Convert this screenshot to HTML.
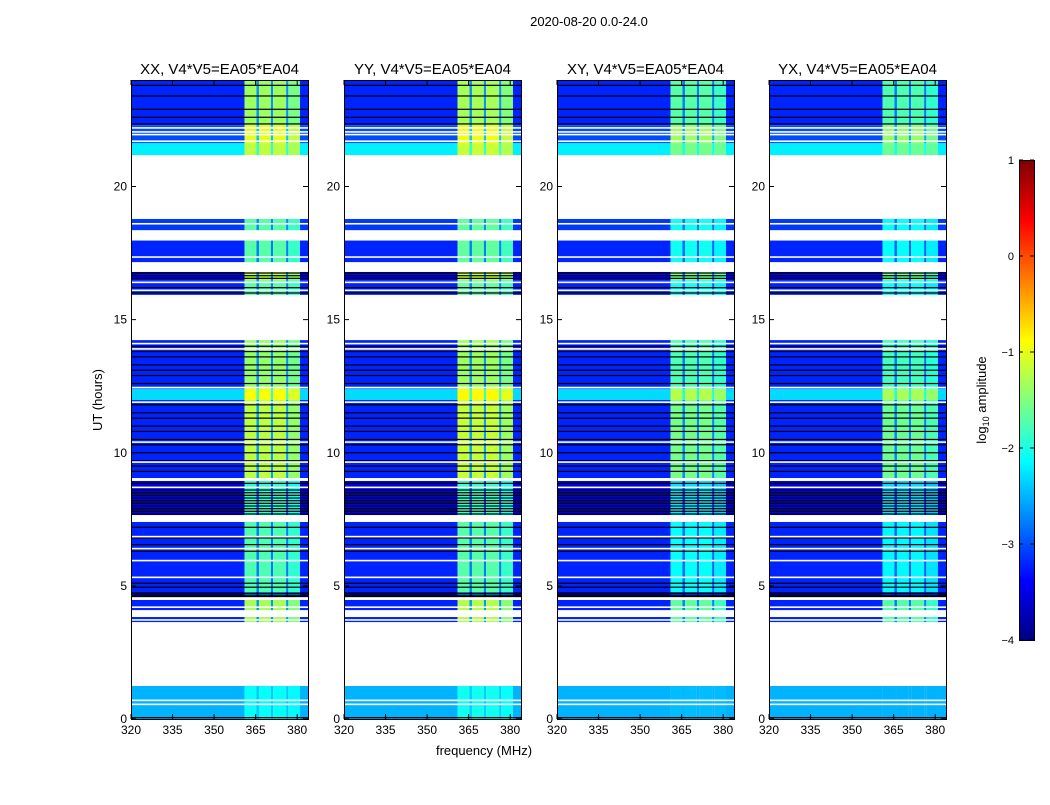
<!DOCTYPE html>
<html><head><meta charset="utf-8"><style>
body{margin:0;background:#fff;font-family:"Liberation Sans",sans-serif}
svg text{font-family:"Liberation Sans",sans-serif}
</style></head><body>
<svg id="fig" width="1050" height="800" xmlns="http://www.w3.org/2000/svg">
<rect width="1050" height="800" fill="#fff"/>
<text x="589" y="26" font-size="13" text-anchor="middle">2020-08-20 0.0-24.0</text>
<text x="484" y="755" font-size="13" text-anchor="middle">frequency (MHz)</text>
<text x="102" y="400" font-size="13" text-anchor="middle" transform="rotate(-90 102 400)">UT (hours)</text>
<g id="panels"></g>
<g id="cbar"></g>
</svg>
<script>
const panelTitles=["XX, V4*V5=EA05*EA04","YY, V4*V5=EA05*EA04","XY, V4*V5=EA05*EA04","YX, V4*V5=EA05*EA04"];
const panelBandOffset=[0,0.05,-0.35,-0.4];
// frequency bands: [fStart,fEnd,bandWeight]
const freqBands=[[320,361,0],[361,365.3,1],[365.3,366.2,0.3],[366.2,370.5,1],[370.5,371.3,0.3],[371.3,376,1],[376,376.8,0.3],[376.8,381,0.9],[381,384,0]];
// time segments: [tStart,tEnd,backgroundLog,bandLog]
const segments=[[0,1.24,-2.5,-2.1],[3.64,3.83,-3.2,-1.3],[4.09,4.47,-3.2,-1.3],[4.58,4.77,-3.6,-2.6],[4.77,7.40,-3.2,-1.75],[7.66,8.94,-3.5,-1.9],[9.05,11.98,-3.2,-1.2],[11.98,12.4,-2.3,-0.9],[12.4,14.23,-3.2,-1.4],[15.88,16.48,-3.2,-1.7],[16.48,16.79,-3.4,-1.2],[17.16,18.02,-3.2,-1.7],[18.36,18.78,-3.1,-1.7],[21.18,21.63,-2.2,-1.2],[21.63,22.3,-3.0,-1.0],[22.3,24,-3.2,-1.35]];
const blackLines=[0.05,4.6,4.65,4.72,4.95,5.1,6.3,6.55,6.8,7.2,7.7,7.8,7.9,8.0,8.1,8.2,8.3,8.4,8.5,8.6,8.7,8.85,9.3,9.5,9.7,10.0,10.3,10.5,10.8,11.0,11.3,11.5,11.8,12.6,12.9,13.1,13.3,13.6,13.8,14.0,16.0,16.2,16.55,16.65,16.75,22.35,22.6,22.9,23.4,23.8];
const whiteLines=[0.55,0.7,3.72,4.2,4.52,5.32,5.95,6.4,6.85,7.55,8.7,9.65,10.4,11.9,12.45,13.9,14.1,15.9,16.1,16.4,16.85,17.05,17.35,18.0,18.6,21.7,21.95,22.05,22.2];
const yTicks=[0,5,10,15,20];
const xTicks=[320,335,350,365,380];
const cbTicks=[1,0,-1,-2,-3,-4];

const NS="http://www.w3.org/2000/svg";
const panelX=[131,344,557,769],PW=177,PT=80,PB=719;
const yS=h=>PB-(h/24)*(PB-PT);
const xS=(p,f)=>panelX[p]+(f-320)*2.77;
function jet(v){let t=Math.max(0,Math.min(1,(v+4)/5));
 const c=x=>Math.round(255*Math.max(0,Math.min(1,1.5-Math.abs(4*t-x))));
 return `rgb(${c(3)},${c(2)},${c(1)})`;}
function mk(tag,at,parent){const e=document.createElementNS(NS,tag);for(const k in at)e.setAttribute(k,at[k]);parent.appendChild(e);return e;}
const G=document.getElementById('panels');
for(let p=0;p<4;p++){
 const g=mk('g',{},G);
 
 
 const t=mk('text',{x:panelX[p]+PW/2,y:74,'font-size':15,'text-anchor':'middle'},g);
 t.textContent=panelTitles[p];
 
 
 for(const s of segments){
  for(const b of freqBands){
   const v=s[2]+(s[3]+panelBandOffset[p]-s[2])*b[2];
   const x0=xS(p,b[0]),x1=Math.min(xS(p,b[1]),panelX[p]+PW);
   const r=mk('rect',{x:x0,y:yS(s[1]),width:x1-x0,height:yS(s[0])-yS(s[1]),fill:jet(v)},g);
   
   
  }
 }
 for(const h of blackLines){const r=mk('rect',{x:panelX[p],y:yS(h)-0.6,width:PW,height:1.2,fill:'#000'},g);
  
  }
 for(const h of whiteLines){const r=mk('rect',{x:panelX[p],y:yS(h)-0.8,width:PW,height:1.6,fill:'#fff'},g);
  
  }
 const fr=mk('rect',{x:panelX[p]+0.5,y:PT+0.5,width:PW,height:PB-PT,fill:'none',stroke:'#000','stroke-width':1},g);
 
 
 for(const v of yTicks){const y=yS(v);
  mk('line',{x1:panelX[p],x2:panelX[p]+5,y1:y,y2:y,stroke:'#000'},g);
  mk('line',{x1:panelX[p]+PW-5,x2:panelX[p]+PW,y1:y,y2:y,stroke:'#000'},g);
  const l=mk('text',{x:panelX[p]-4,y:y+4,'font-size':12,'text-anchor':'end'},g);l.textContent=v;
  
  }
 for(const v of xTicks){const x=xS(p,v);
  mk('line',{x1:x,x2:x,y1:PB,y2:PB-5,stroke:'#000'},g);
  mk('line',{x1:x,x2:x,y1:PT,y2:PT+5,stroke:'#000'},g);
  const l=mk('text',{x:x,y:PB+15,'font-size':12,'text-anchor':'middle'},g);l.textContent=v;
  
  }
}
const C=document.getElementById('cbar');
const cx=1019,cw=15,ct=160,cb=640;
for(let i=0;i<240;i++){const v=1-5*i/240;
 mk('rect',{x:cx,y:ct+i*2,width:cw,height:2.2,fill:jet(v)},C);}
mk('rect',{x:cx+0.5,y:ct+0.5,width:cw,height:cb-ct,fill:'none',stroke:'#000'},C);
for(const v of cbTicks){const y=ct+(1-v)/5*(cb-ct);
 mk('line',{x1:cx,x2:cx+4,y1:y,y2:y,stroke:'#000'},C);
 mk('line',{x1:cx+cw-4,x2:cx+cw,y1:y,y2:y,stroke:'#000'},C);
 const l=mk('text',{x:1014,y:y+4,'font-size':11,'text-anchor':'end'},C);l.textContent=(v<0?'\u2212'+(-v):v);
 
 }
const cl=mk('text',{x:986,y:400,'font-size':13,'text-anchor':'middle',transform:'rotate(-90 986 400)'},C);
cl.innerHTML='log<tspan font-size="9" dy="3">10</tspan><tspan dy="-3"> amplitude</tspan>';


</script>
</body></html>
